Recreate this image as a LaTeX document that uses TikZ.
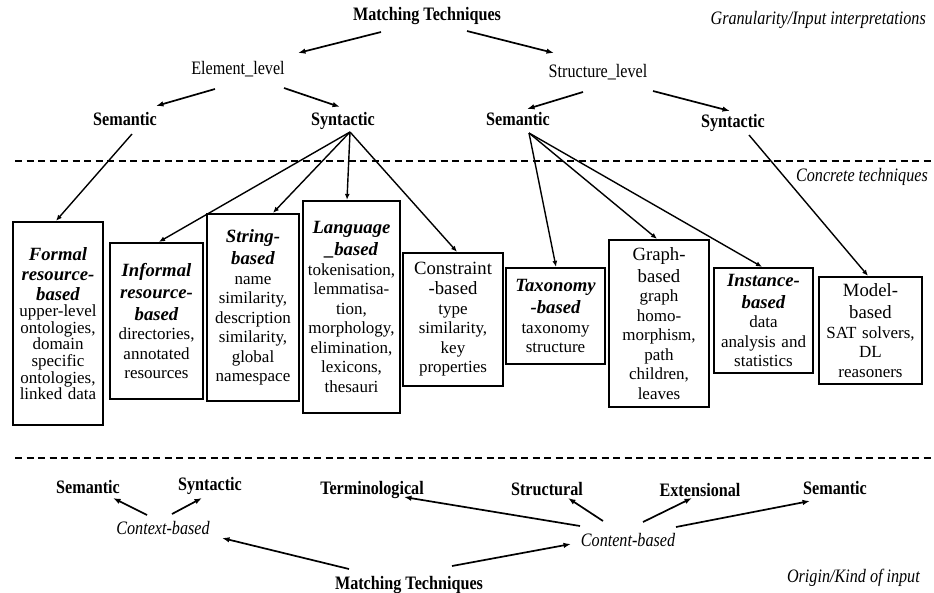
\documentclass[tikz,border=0pt]{standalone}
\usepackage{fontspec}
\setmainfont{Liberation Serif}
\newfontfamily\condfam[FakeStretch=0.85]{Liberation Serif}
\usetikzlibrary{arrows.meta,calc}
\setlength{\parindent}{0pt}
\newcommand\bxhead{\fontsize{18.7}{22}\selectfont\bfseries\itshape}
\newcommand\bxheadF{\fontsize{18.7}{20}\selectfont\bfseries\itshape}
\newcommand\bxreg{\fontsize{18.7}{22}\selectfont\mdseries\upshape}
\newcommand\bxbody{\fontsize{17}{19.5}\selectfont\mdseries\upshape}
\newcommand\bxbodyF{\fontsize{17}{16.6}\selectfont\mdseries\upshape}
\begin{document}
\begin{tikzpicture}[x=1pt,y=-1pt,
  lblbase/.style={inner sep=0pt, text height=12.6pt, text depth=0pt},
  lbl/.style={lblbase, font=\condfam\fontsize{19}{22}\selectfont\bfseries},
  ilbl/.style={lblbase, font=\condfam\fontsize{19}{22}\selectfont\itshape},
  nlbl/.style={lblbase, font=\condfam\fontsize{19}{22}\selectfont},
  arr/.style={line width=1.7pt, -{Latex[length=7.5pt,width=5.5pt]}},
  farr/.style={line width=1.4pt, -{Latex[length=6pt,width=5pt]}},
  sepline/.style={line width=2.4pt, dash pattern=on 7pt off 4.5pt},
  tbox/.style={draw, line width=2.3pt, inner sep=0pt, align=center, font=\bxbody},
]
\fill[white] (0,0) rectangle (934,592);
\useasboundingbox (0,0) rectangle (934,592);

% ---------- top: granularity ----------
\node[lbl] (mt1) at (427,14) {Matching Techniques};
\node[ilbl, anchor=east] (gran) at (926,18) {Granularity/Input interpretations};
\node[nlbl] (el) at (238,68) {Element\_level};
\node[nlbl] (sl) at (598,71.5) {Structure\_level};
\node[lbl] (sem1) at (125,119.5) {Semantic};
\node[lbl] (syn1) at (343,119.5) {Syntactic};
\node[lbl] (sem2) at (518,119.5) {Semantic};
\node[lbl] (syn2) at (733,121) {Syntactic};

\draw[arr] ($(mt1)+(-46,18)$) -- ($(el)+(60,-15)$);
\draw[arr] ($(mt1)+(40,17)$) -- ($(sl)+(-44,-18.5)$);
\draw[arr] ($(el)+(-23,21)$) -- ($(sem1)+(31,-13.5)$);
\draw[arr] ($(el)+(46,20)$) -- ($(syn1)+(-3,-12.5)$);
\draw[arr] ($(sl)+(-15,20.5)$) -- ($(sem2)+(9,-10.5)$);
\draw[arr] ($(sl)+(55,19.5)$) -- ($(syn2)+(-3,-10)$);

% ---------- separators ----------
\draw[sepline] (15,161) -- (934,161);
\node[ilbl, anchor=east] (conc) at (928,175) {Concrete techniques};
\draw[sepline] (15,458) -- (934,458);

% ---------- boxes ----------
\node[tbox, minimum width=90pt, minimum height=203pt, text width=88pt] (formal) at (58,323.5)
 {\bxheadF Formal\\resource-\\based\par\bxbodyF upper-level\\ontologies,\\domain\\specific\\ontologies,\\linked data\par};
\node[tbox, minimum width=93pt, minimum height=156pt, text width=90pt] (informal) at (156.5,321)
 {\bxhead Informal\\resource-\\based\par\bxbody directories,\\annotated\\resources\par};
\node[tbox, minimum width=92pt, minimum height=187pt, text width=89pt] (string) at (253,307.5)
 {\bxhead String-\\based\par\bxbody name\\similarity,\\description\\similarity,\\global\\namespace\par};
\node[tbox, minimum width=97pt, minimum height=212pt, text width=94pt] (language) at (351.5,307)
 {\bxhead Language\\\_based\par\bxbody tokenisation,\\lemmatisa-\\tion,\\morphology,\\elimination,\\lexicons,\\thesauri\par};
\node[tbox, minimum width=100pt, minimum height=133pt, text width=97pt] (constraint) at (453,319.5)
 {\fontsize{18.7}{20}\selectfont Constraint\\-based\par\bxbody type\\similarity,\\key\\properties\par};
\node[tbox, minimum width=99pt, minimum height=96pt, text width=96pt] (taxonomy) at (555.5,316)
 {\bxhead Taxonomy\\-based\par\bxbody taxonomy\\structure\par};
\node[tbox, minimum width=100pt, minimum height=167pt, text width=97pt] (graph) at (659,323.5)
 {\bxreg Graph-\\based\par\bxbody graph\\homo-\\morphism,\\path\\children,\\leaves\par};
\node[tbox, minimum width=99pt, minimum height=105pt, text width=96pt] (instance) at (763.5,320.5)
 {\bxhead Instance-\\based\par\bxbody data\\analysis and\\statistics\par};
\node[tbox, minimum width=103pt, minimum height=107pt, text width=100pt] (model) at (870.5,330.5)
 {\bxreg Model-\\based\par\bxbody SAT solvers,\\DL\\reasoners\par};

% ---------- connectors to boxes ----------
\draw[farr] ($(sem1)+(7,14.5)$) -- ($(formal.north)+(-2,0)$);
\draw[farr] ($(syn1)+(7,12.5)$) -- ($(informal.north)+(2.5,0)$);
\draw[farr] ($(syn1)+(7,12.5)$) -- ($(string.north)+(20,0)$);
\draw[farr] ($(syn1)+(7,12.5)$) -- ($(language.north)+(-4.5,0)$);
\draw[farr] ($(syn1)+(7,12.5)$) -- ($(constraint.north)+(4,0)$);
\draw[farr] ($(sem2)+(11,13.5)$) -- ($(taxonomy.north)+(0.5,0)$);
\draw[farr] ($(sem2)+(11,13.5)$) -- ($(graph.north)+(-2,0)$);
\draw[farr] ($(sem2)+(11,13.5)$) -- ($(instance.north)+(-1.5,0)$);
\draw[farr] ($(syn2)+(16,14)$) -- ($(model.north)+(-2.5,0)$);

% ---------- bottom: origin / kind of input ----------
\node[lbl] (bsem1) at (88,487) {Semantic};
\node[lbl] (bsyn1) at (210,484) {Syntactic};
\node[lbl] (term) at (372,488) {Terminological};
\node[lbl] (struct) at (547,489) {Structural};
\node[lbl] (ext) at (700,490) {Extensional};
\node[lbl] (bsem2) at (835,488) {Semantic};
\node[ilbl] (ctx) at (163,528) {Context-based};
\node[ilbl] (cnt) at (628,540) {Content-based};
\node[lbl] (mt2) at (409,583) {Matching Techniques};
\node[ilbl, anchor=east] (orig) at (920,576) {Origin/Kind of input};

\draw[arr] ($(ctx)+(-16,-13)$) -- ($(bsem1)+(25,11)$);
\draw[arr] ($(ctx)+(9,-14)$) -- ($(bsyn1)+(-8,14)$);
\draw[arr] ($(cnt)+(-48,-14)$) -- ($(term)+(32,9)$);
\draw[arr] ($(cnt)+(-25,-19)$) -- ($(struct)+(21,9)$);
\draw[arr] ($(cnt)+(15,-18)$) -- ($(ext)+(-8,8)$);
\draw[arr] ($(cnt)+(48,-13)$) -- ($(bsem2)+(-25,13)$);
\draw[arr] ($(mt2)+(-60,-14)$) -- ($(ctx)+(59,10)$);
\draw[arr] ($(mt2)+(43,-17)$) -- ($(cnt)+(-57,4)$);
\end{tikzpicture}
\end{document}
